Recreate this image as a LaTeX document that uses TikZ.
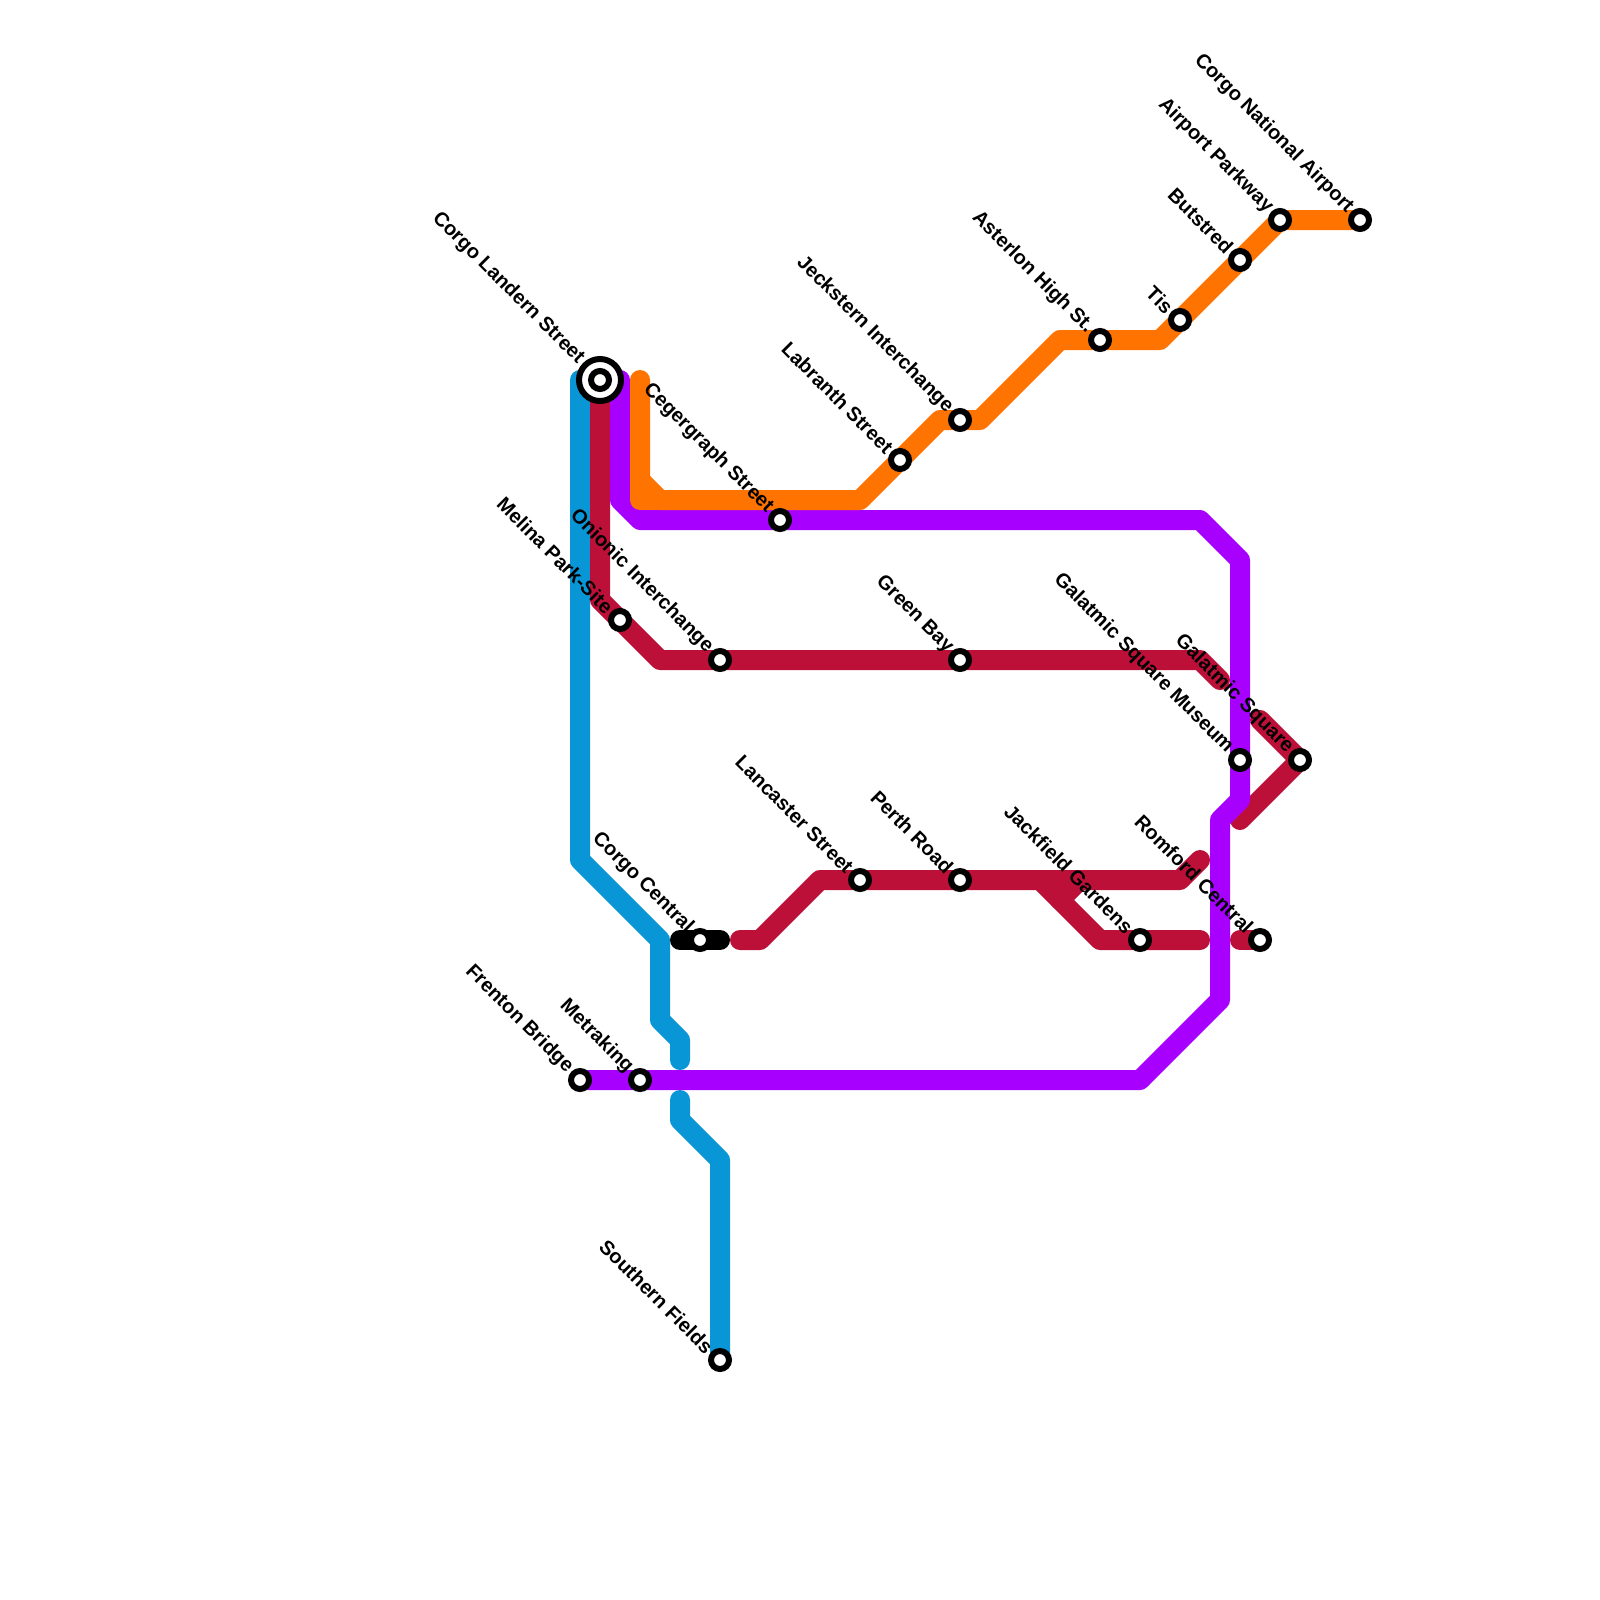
\documentclass[tikz,border=0pt]{standalone}
\usepackage{fontspec}
\setmainfont{Liberation Sans}
\pgfdeclarelayer{lines}
\pgfsetlayers{lines,main}
\definecolor{cblue}{HTML}{0896D7}
\definecolor{cred}{HTML}{BD1038}
\definecolor{cpurple}{HTML}{A700FF}
\definecolor{corange}{HTML}{FF7300}
\tikzset{
  metro/.style={line width=20pt,line cap=round,line join=round},
  stn/.style={circle,draw=black,fill=white,line width=6pt,minimum size=18pt,inner sep=0pt,outer sep=0pt},
  ring/.style={circle,draw=black,fill=white,line width=6pt,minimum size=42pt,inner sep=0pt,outer sep=0pt},
  lbl/.style={rotate=-45,anchor=east,inner sep=0pt,font=\bfseries\fontsize{20}{20}\selectfont,text=black},
}
\newcommand{\stnlabel}[4][-10]{\node[stn] (#2) at (#3) {}; \node[lbl] (#2-l) at ([shift={(#1,#1)}]#3) {#4};}
\begin{document}
\begin{tikzpicture}[x=1pt,y=-1pt]
\useasboundingbox (0,0) rectangle (1600,1600);
% interchange ring
\node[ring] (landernring) at (600,380) {};
% stations and labels
\stnlabel[-19]{landern}{600,380}{Corgo Landern Street}
\stnlabel{cegergraph}{780,520}{Cegergraph Street}
\stnlabel{labranth}{900,460}{Labranth Street}
\stnlabel{jeckstern}{960,420}{Jeckstern Interchange}
\stnlabel{asterlon}{1100,340}{Asterlon High St.}
\stnlabel{tis}{1180,320}{Tis}
\stnlabel{butstred}{1240,260}{Butstred}
\stnlabel{airportpk}{1280,220}{Airport Parkway}
\stnlabel{national}{1360,220}{Corgo National Airport}
\stnlabel{melina}{620,620}{Melina Park-Site}
\stnlabel{onionic}{720,660}{Onionic Interchange}
\stnlabel{greenbay}{960,660}{Green Bay}
\stnlabel{museum}{1240,760}{Galatmic Square Museum}
\stnlabel{galatmic}{1300,760}{Galatmic Square}
\stnlabel{lancaster}{860,880}{Lancaster Street}
\stnlabel{perth}{960,880}{Perth Road}
\stnlabel{jackfield}{1140,940}{Jackfield Gardens}
\stnlabel{romford}{1260,940}{Romford Central}
\stnlabel{central}{700,940}{Corgo Central}
\stnlabel{frenton}{580,1080}{Frenton Bridge}
\stnlabel{metraking}{640,1080}{Metraking}
\stnlabel{southern}{720,1360}{Southern Fields}
% bend points
\coordinate (b1) at (580,380);
\coordinate (b2) at (580,860);
\coordinate (b3) at (660,940);
\coordinate (b4) at (660,1020);
\coordinate (b5) at (680,1040);
\coordinate (b6) at (680,1060);
\coordinate (b7) at (680,1100);
\coordinate (b8) at (680,1120);
\coordinate (b9) at (720,1160);
\coordinate (r1) at (600,600);
\coordinate (r2) at (660,660);
\coordinate (r3) at (1200,660);
\coordinate (r4) at (1220,680);
\coordinate (r5) at (1260,720);
\coordinate (r6) at (1240,820);
\coordinate (r7) at (740,940);
\coordinate (r8) at (760,940);
\coordinate (r9) at (820,880);
\coordinate (r10) at (1180,880);
\coordinate (r11) at (1200,860);
\coordinate (r12) at (1040,880);
\coordinate (r13) at (1100,940);
\coordinate (r14) at (1200,940);
\coordinate (r15) at (1080,880);
\coordinate (r16) at (1060,900);
\coordinate (r17) at (1240,940);
\coordinate (p1) at (620,380);
\coordinate (p2) at (620,500);
\coordinate (p3) at (640,520);
\coordinate (p4) at (1200,520);
\coordinate (p5) at (1240,560);
\coordinate (p6) at (1240,800);
\coordinate (p7) at (1220,820);
\coordinate (p8) at (1220,1000);
\coordinate (p9) at (1140,1080);
\coordinate (o1) at (640,380);
\coordinate (o2) at (640,480);
\coordinate (o3) at (660,500);
\coordinate (o4) at (640,500);
\coordinate (o5) at (860,500);
\coordinate (o6) at (940,420);
\coordinate (o7) at (980,420);
\coordinate (o8) at (1060,340);
\coordinate (o9) at (1160,340);
\coordinate (k1) at (680,940);
\coordinate (k2) at (720,940);
\begin{pgfonlayer}{lines}
\fill[white] (0,0) rectangle (1600,1600);
% blue
\draw[metro,cblue] (b1)--(b2)--(b3)--(b4)--(b5)--(b6);
\draw[metro,cblue] (b7)--(b8)--(b9)--(southern.center);
% red
\draw[metro,cred] (landern.center)--(r1)--(melina.center)--(r2)--(onionic.center)--(greenbay.center)--(r3)--(r4);
\draw[metro,cred] (r5)--(galatmic.center)--(r6);
\draw[metro,cred] (r7)--(r8)--(r9)--(lancaster.center)--(perth.center)--(r10)--(r11);
\draw[metro,cred] (r12)--(r13)--(jackfield.center)--(r14);
\draw[metro,cred] (r15)--(r16);
\draw[metro,cred] (r17)--(romford.center);
% purple
\draw[metro,cpurple] (p1)--(p2)--(p3)--(cegergraph.center)--(p4)--(p5)--(museum.center)--(p6)--(p7)--(p8)--(p9)--(metraking.center)--(frenton.center);
% orange
\draw[metro,corange] (o1)--(o2)--(o3)--(o5)--(labranth.center)--(o6)--(jeckstern.center)--(o7)--(o8)--(asterlon.center)--(o9)--(tis.center)--(butstred.center)--(airportpk.center)--(national.center);
\draw[metro,corange] (o2)--(o4)--(o3);
% black
\draw[metro,black] (k1)--(k2);
\end{pgfonlayer}
\end{tikzpicture}
\end{document}
